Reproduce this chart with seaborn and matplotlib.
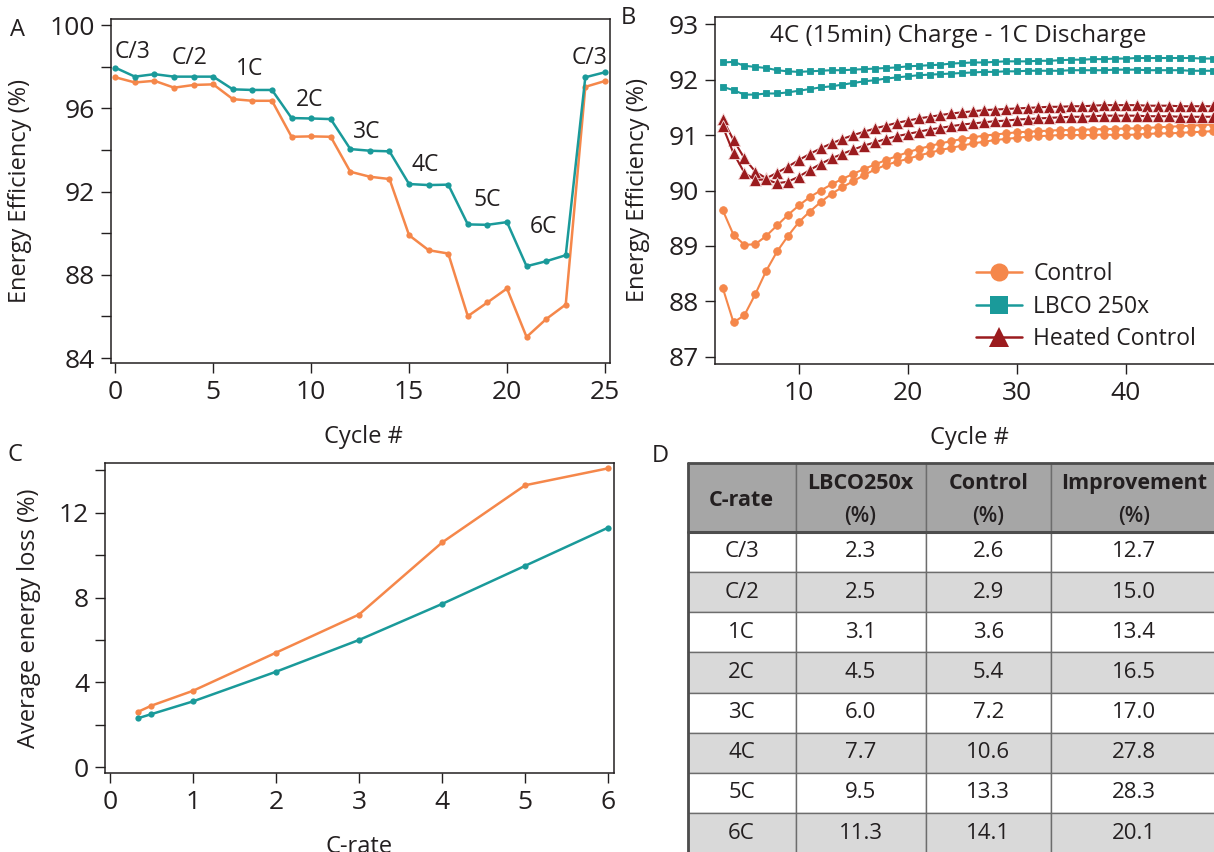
import numpy as np
import pandas as pd
import seaborn as sns
import matplotlib
import matplotlib.pyplot as plt
from matplotlib.lines import Line2D
from matplotlib.ticker import MultipleLocator
matplotlib.use('Agg')

# ---- panel A: rate test ----
rate_cycle = list(range(26))
rate_lbco = [97.95, 97.52, 97.64, 97.52, 97.52, 97.52, 96.91, 96.88, 96.88,
             95.53, 95.51, 95.48, 94.04, 93.96, 93.93, 92.36, 92.31, 92.33,
             90.42, 90.40, 90.53, 88.41, 88.65, 88.94, 97.49, 97.73]
rate_ctrl = [97.49, 97.24, 97.32, 96.99, 97.12, 97.15, 96.44, 96.36, 96.36,
             94.63, 94.65, 94.63, 92.95, 92.71, 92.60, 89.90, 89.18, 89.02,
             86.01, 86.67, 87.34, 85.01, 85.87, 86.57, 97.03, 97.31]
step_names = ['C/3', 'C/2', '1C', '2C', '3C', '4C', '5C', '6C', 'C/3']
step_x = [0.87, 3.78, 6.85, 9.92, 12.83, 15.8, 18.97, 21.88, 24.2]
step_y = [98.7, 98.4, 97.9, 96.39, 94.86, 93.27, 91.59, 90.29, 98.4]

# ---- panel B: 4C charge / 1C discharge, two cells each ----
fast_cycle = list(range(3, 51))
ctrl_cell1 = [89.65, 89.20, 89.02, 89.03, 89.18, 89.37, 89.56, 89.73, 89.88, 90.00,
              90.11, 90.21, 90.30, 90.39, 90.47, 90.55, 90.62, 90.69, 90.75, 90.80,
              90.85, 90.89, 90.93, 90.96, 90.99, 91.01, 91.03, 91.05, 91.06, 91.07,
              91.08, 91.09, 91.09, 91.10, 91.10, 91.11, 91.11, 91.12, 91.12, 91.13,
              91.14, 91.15, 91.16, 91.17, 91.18, 91.19, 91.19, 91.20]
ctrl_cell2 = [88.25, 87.62, 87.75, 88.13, 88.55, 88.90, 89.18, 89.43, 89.62, 89.79,
              89.94, 90.06, 90.17, 90.28, 90.38, 90.46, 90.52, 90.57, 90.63, 90.68,
              90.73, 90.77, 90.81, 90.85, 90.88, 90.91, 90.93, 90.95, 90.97, 90.98,
              90.99, 91.00, 91.00, 91.00, 91.00, 91.01, 91.00, 91.00, 91.01, 91.02,
              91.03, 91.03, 91.04, 91.05, 91.06, 91.07, 91.08, 91.08]
lbco_cell1 = [92.31, 92.32, 92.25, 92.23, 92.21, 92.17, 92.15, 92.14, 92.15, 92.16,
              92.17, 92.17, 92.18, 92.19, 92.20, 92.21, 92.22, 92.24, 92.25, 92.26,
              92.27, 92.29, 92.30, 92.31, 92.31, 92.32, 92.33, 92.33, 92.33, 92.34,
              92.34, 92.35, 92.36, 92.36, 92.37, 92.37, 92.38, 92.38, 92.39, 92.39,
              92.39, 92.39, 92.39, 92.39, 92.38, 92.38, 92.38, 92.38]
lbco_cell2 = [91.87, 91.81, 91.73, 91.73, 91.75, 91.75, 91.77, 91.80, 91.83, 91.86,
              91.88, 91.91, 91.94, 91.97, 91.99, 92.02, 92.04, 92.06, 92.08, 92.09,
              92.10, 92.11, 92.12, 92.13, 92.14, 92.14, 92.15, 92.15, 92.16, 92.16,
              92.16, 92.16, 92.17, 92.17, 92.17, 92.17, 92.18, 92.18, 92.18, 92.17,
              92.17, 92.17, 92.17, 92.16, 92.16, 92.16, 92.16, 92.16]
heat_cell1 = [91.29, 90.91, 90.58, 90.34, 90.22, 90.32, 90.43, 90.55, 90.66, 90.76,
              90.85, 90.93, 91.00, 91.06, 91.12, 91.17, 91.22, 91.26, 91.30, 91.33,
              91.36, 91.39, 91.41, 91.43, 91.45, 91.46, 91.47, 91.48, 91.49, 91.50,
              91.51, 91.51, 91.52, 91.52, 91.53, 91.54, 91.54, 91.54, 91.54, 91.53,
              91.53, 91.53, 91.52, 91.52, 91.52, 91.52, 91.51, 91.51]
heat_cell2 = [91.16, 90.67, 90.32, 90.19, 90.20, 90.13, 90.16, 90.25, 90.37, 90.48,
              90.58, 90.66, 90.74, 90.81, 90.87, 90.93, 90.98, 91.02, 91.06, 91.10,
              91.13, 91.16, 91.19, 91.21, 91.23, 91.25, 91.26, 91.28, 91.29, 91.30,
              91.31, 91.32, 91.33, 91.33, 91.34, 91.35, 91.35, 91.35, 91.35, 91.34,
              91.34, 91.34, 91.33, 91.33, 91.33, 91.33, 91.33, 91.33]

# ---- panel C / D: average energy loss ----
c_rates = ['C/3', 'C/2', '1C', '2C', '3C', '4C', '5C', '6C']
c_rate_x = [1 / 3, 0.5, 1, 2, 3, 4, 5, 6]
loss_lbco = [2.3, 2.5, 3.1, 4.5, 6.0, 7.7, 9.5, 11.3]
loss_ctrl = [2.6, 2.9, 3.6, 5.4, 7.2, 10.6, 13.3, 14.1]
improvement = [12.7, 15.0, 13.4, 16.5, 17.0, 27.8, 28.3, 20.1]

ORANGE = '#f5874a'
TEAL = '#1a9a9a'
RED = '#9b1b1e'
INK = '#231f20'

sns.set_theme(style='ticks', rc={
    'axes.edgecolor': INK, 'axes.linewidth': 1.1,
    'xtick.color': INK, 'ytick.color': INK,
    'xtick.major.size': 7.5, 'ytick.major.size': 7.5,
    'xtick.minor.size': 7.5, 'ytick.minor.size': 7.5,
    'xtick.major.width': 1.0, 'ytick.major.width': 1.0,
    'xtick.minor.width': 1.0, 'ytick.minor.width': 1.0,
    'xtick.major.pad': 5, 'ytick.major.pad': 4,
    'text.color': INK, 'axes.labelcolor': INK,
})
plt.rcParams['font.family'] = ['Open Sans', 'DejaVu Sans']

W, H = 1214, 852
fig = plt.figure(figsize=(W / 100, H / 100), dpi=100)


def px_axes(left, top, right, bottom):
    return fig.add_axes([left / W, 1 - bottom / H, (right - left) / W, (bottom - top) / H])


TICK_FS = 19
LABEL_FS = 17

# ---------------- A ----------------
axA = px_axes(111, 19, 610, 363)
dfA = pd.DataFrame({'cycle': rate_cycle + rate_cycle,
                    'ee': rate_ctrl + rate_lbco,
                    'cell': ['Control'] * 26 + ['LBCO 250x'] * 26})
sns.lineplot(data=dfA, x='cycle', y='ee', hue='cell', palette=[ORANGE, TEAL],
             marker='o', markersize=4.5, markeredgewidth=0, linewidth=1.8,
             legend=False, ax=axA)
for name, x, y in zip(step_names, step_x, step_y):
    axA.text(x, y, name, fontsize=16.5, ha='center', va='center')
axA.set_xlim(-0.22, 25.26)
axA.set_ylim(83.76, 100.29)
axA.set_xticks([0, 5, 10, 15, 20, 25])
axA.yaxis.set_major_locator(MultipleLocator(4))
axA.yaxis.set_minor_locator(MultipleLocator(2))
axA.set_xlabel('Cycle #', fontsize=LABEL_FS)
axA.set_ylabel('Energy Efficiency (%)', fontsize=LABEL_FS)
axA.xaxis.set_label_coords(0.505, -0.18)
axA.yaxis.set_label_coords(-0.158, 0.5)

# ---------------- B ----------------
axB = px_axes(715, 17, 1240, 364)
series_B = [('Control', ctrl_cell1, 1), ('Control', ctrl_cell2, 2),
            ('LBCO 250x', lbco_cell1, 1), ('LBCO 250x', lbco_cell2, 2),
            ('Heated Control', heat_cell1, 1), ('Heated Control', heat_cell2, 2)]
rows = []
for group, vals, cell in series_B:
    for c, v in zip(fast_cycle, vals):
        rows.append({'cycle': c, 'ee': v, 'group': group, 'cell': cell})
dfB = pd.DataFrame(rows)
b_style = {'Control': (ORANGE, 'o', 5.5, ORANGE),
           'LBCO 250x': (TEAL, 's', 5.0, TEAL),
           'Heated Control': (RED, '^', 8.5, '#f6dcdc')}
for group, (col, mk, ms, mec) in b_style.items():
    sub = dfB[dfB['group'] == group]
    sns.lineplot(data=sub, x='cycle', y='ee', units='cell', estimator=None,
                 color=col, marker=mk, markersize=ms, markeredgecolor=mec,
                 markeredgewidth=0.6, linewidth=1.5, ax=axB)
axB.set_xlim(2.3, 50.5)
axB.set_ylim(86.87, 93.13)
axB.set_xticks([10, 20, 30, 40])
axB.set_yticks([87, 88, 89, 90, 91, 92, 93])
axB.set_xlabel('Cycle #', fontsize=LABEL_FS)
axB.set_ylabel('Energy Efficiency (%)', fontsize=LABEL_FS)
axB.xaxis.set_label_coords((969 - 715) / 525, -0.18)
axB.yaxis.set_label_coords(-0.124, 0.5)
axB.text((958 - 715) / 525, (364 - 36) / 347, '4C (15min) Charge - 1C Discharge',
         transform=axB.transAxes, fontsize=17.5, ha='center', va='center')
handles = [Line2D([], [], color=col, marker=mk, markersize=13 if mk != '^' else 14,
                  linewidth=1.8, markeredgewidth=0)
           for col, mk, _, _ in b_style.values()]
axB.legend(handles, list(b_style.keys()), loc='upper left',
           bbox_to_anchor=((976 - 715) / 525, (364 - 262) / 347),
           frameon=False, fontsize=16.5, handlelength=2.0, handletextpad=0.5,
           labelspacing=0.38, borderaxespad=0, borderpad=0)

# ---------------- C ----------------
axC = px_axes(105, 463, 614, 773)
dfC = pd.DataFrame({'crate': c_rate_x + c_rate_x,
                    'loss': loss_ctrl + loss_lbco,
                    'cell': ['Control'] * 8 + ['LBCO 250x'] * 8})
sns.lineplot(data=dfC, x='crate', y='loss', hue='cell', palette=[ORANGE, TEAL],
             marker='o', markersize=4.5, markeredgewidth=0, linewidth=1.8,
             legend=False, ax=axC)
axC.set_xlim(-0.06, 6.07)
axC.set_ylim(-0.28, 14.35)
axC.set_xticks(range(7))
axC.yaxis.set_major_locator(MultipleLocator(4))
axC.yaxis.set_minor_locator(MultipleLocator(2))
axC.set_xlabel('C-rate', fontsize=LABEL_FS)
axC.set_ylabel('Average energy loss (%)', fontsize=LABEL_FS)
axC.xaxis.set_label_coords(0.5, -0.2)
axC.yaxis.set_label_coords(-0.126, 0.5)

for ax in (axA, axB, axC):
    ax.tick_params(which='both', labelsize=TICK_FS, top=False, right=False)
    for s in ax.spines.values():
        s.set_visible(True)

# ---------------- D (table) ----------------
col_w = [108, 130, 125.5, 166]
head_h, row_h = 68.4, 40.2
tab_h = head_h + row_h * len(c_rates)
axD = px_axes(687.6, 463.3, 687.6 + sum(col_w), 463.3 + tab_h)
axD.set_axis_off()
body = [[r, f'{a:.1f}', f'{b:.1f}', f'{c:.1f}']
        for r, a, b, c in zip(c_rates, loss_lbco, loss_ctrl, improvement)]
cell_text = [['', '', '', '']] + body
colours = [['#a6a6a6'] * 4] + [['#ffffff'] * 4 if i % 2 == 0 else ['#d9d9d9'] * 4
                               for i in range(len(body))]
tab = axD.table(cellText=cell_text, cellColours=colours, cellLoc='center',
                colWidths=[w / sum(col_w) for w in col_w], bbox=[0, 0, 1, 1])
tab.auto_set_font_size(False)
tab.set_fontsize(16)
for (r, c), cell in tab.get_celld().items():
    cell.set_height((head_h if r == 0 else row_h) / tab_h)
    cell.set_edgecolor('#6d6d6d')
    cell.set_linewidth(1.0)
    cell.get_text().set_color(INK)
head_names = ['C-rate', 'LBCO250x', 'Control', 'Improvement']
x0 = 0
for j, name in enumerate(head_names):
    xc = (x0 + col_w[j] / 2) / sum(col_w)
    x0 += col_w[j]
    if j == 0:
        axD.text(xc, 1 - 36.7 / tab_h, name, fontsize=15.5, fontweight='bold',
                 ha='center', va='center', transform=axD.transAxes, zorder=10)
    else:
        axD.text(xc, 1 - 20 / tab_h, name, fontsize=15.5, fontweight='bold',
                 ha='center', va='center', transform=axD.transAxes, zorder=10)
        axD.text(xc, 1 - 53.4 / tab_h, '(%)', fontsize=15.5, fontweight='semibold',
                 ha='center', va='center', transform=axD.transAxes, zorder=10)
axD.plot([0, 1], [1 - head_h / tab_h] * 2, color='#4d4d4d', lw=2.2,
         transform=axD.transAxes, clip_on=False, zorder=9)
axD.plot([0, 0], [0, 1], color='#4d4d4d', lw=2.0, transform=axD.transAxes,
         clip_on=False, zorder=9)
axD.plot([0, 1], [1, 1], color='#4d4d4d', lw=2.0, transform=axD.transAxes,
         clip_on=False, zorder=9)

# panel letters
for letter, x, y in [('A', 17, 30), ('B', 628, 18), ('C', 15, 455), ('D', 660, 456)]:
    fig.text(x / W, 1 - y / H, letter, fontsize=17, ha='center', va='center')

fig.savefig('out.png', dpi=100)
